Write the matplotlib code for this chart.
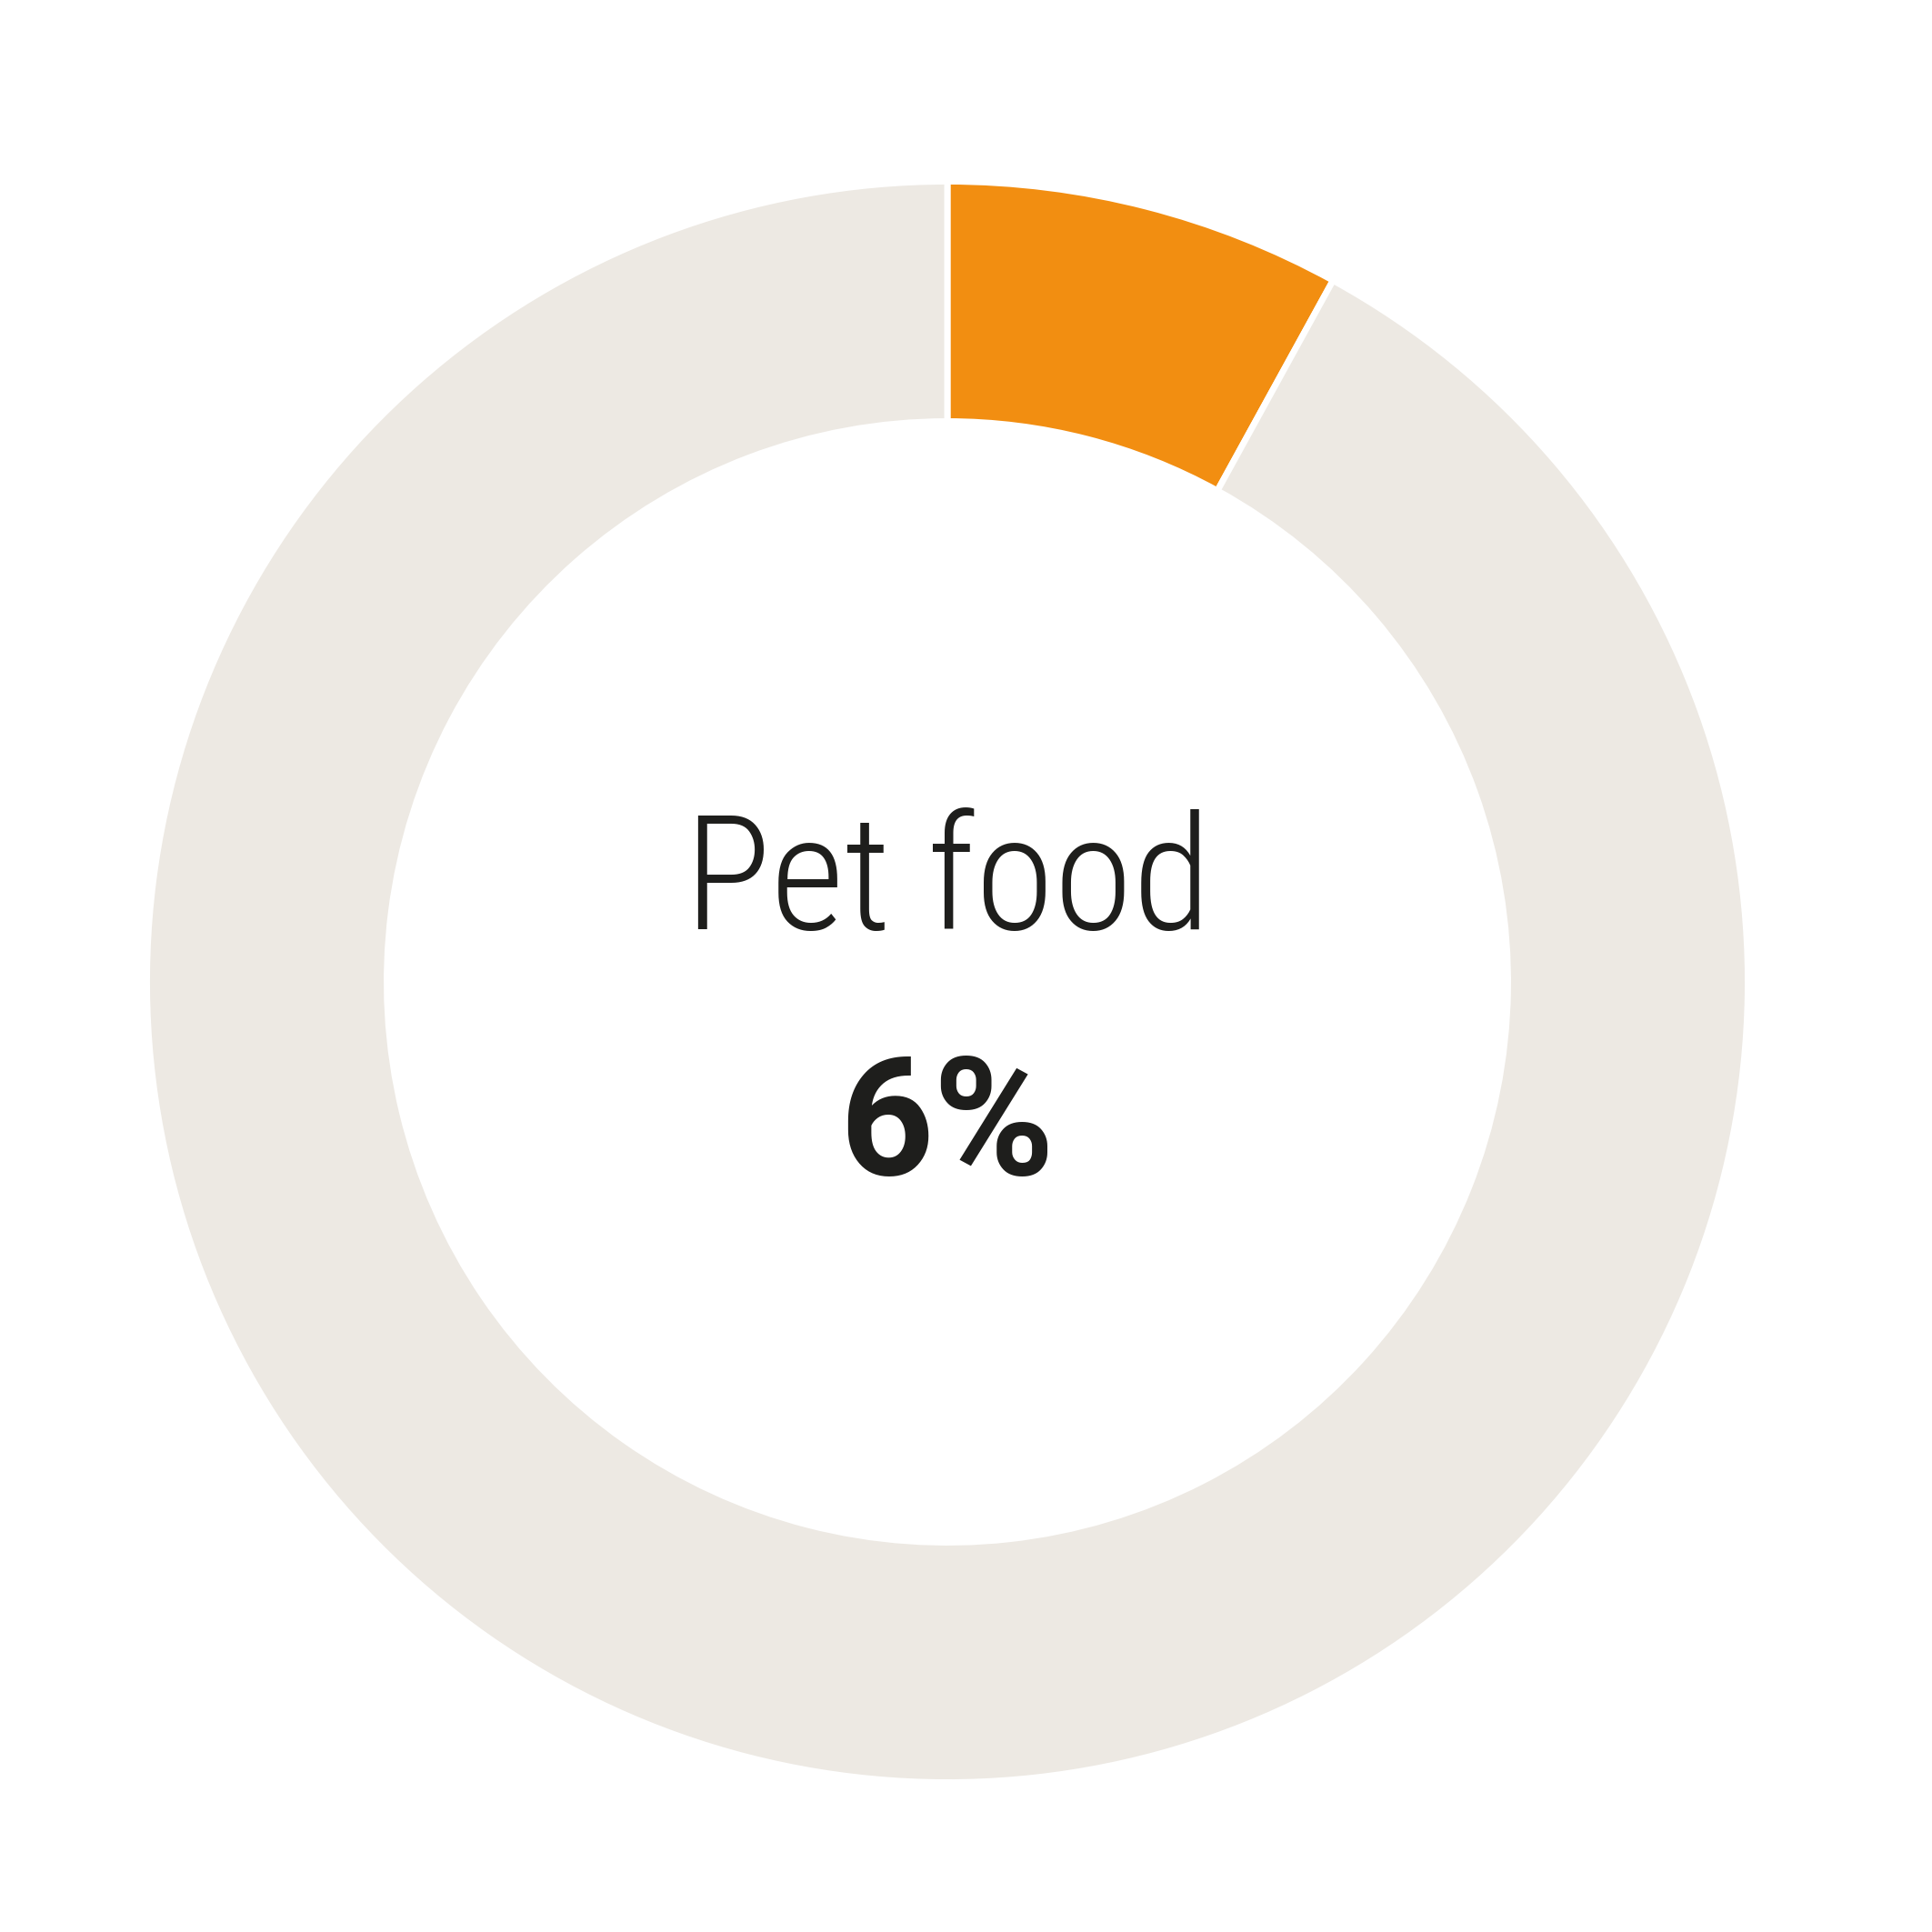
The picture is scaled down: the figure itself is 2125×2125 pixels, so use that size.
import matplotlib
matplotlib.use("Agg")
import matplotlib.pyplot as plt

categories = ["Pet food", "Other"]
values = [8, 92]
colors = ["#F28E11", "#EDE9E3"]
label_text = "Pet food"
value_text = "6%"

W = 2125
fig = plt.figure(figsize=(W / 100, W / 100), dpi=100)
fig.patch.set_facecolor("white")

cx, cy, r = 1042, 1080, 880.5
ax = fig.add_axes([(cx - r) / W, 1 - (cy + r) / W, 2 * r / W, 2 * r / W])
ax.pie(values, colors=colors, startangle=90, counterclock=False, radius=1.0,
       wedgeprops=dict(width=1 - 616.5 / 880.5, edgecolor="white", linewidth=5))
ax.set_xlim(-1, 1)
ax.set_ylim(-1, 1)
ax.set_aspect("equal")
ax.axis("off")

ax.text(0, (cy - 1022) / r, label_text, ha="center", va="baseline",
        fontsize=127, family=["Roboto Condensed", "DejaVu Sans"], fontweight=300,
        color="#1E1E1C")
ax.text(0, (cy - 1242) / r, value_text, ha="center", va="center",
        fontsize=130, family=["Roboto", "DejaVu Sans"], fontweight="bold", color="#1E1E1C")

fig.savefig("out.png", dpi=100, facecolor="white")
